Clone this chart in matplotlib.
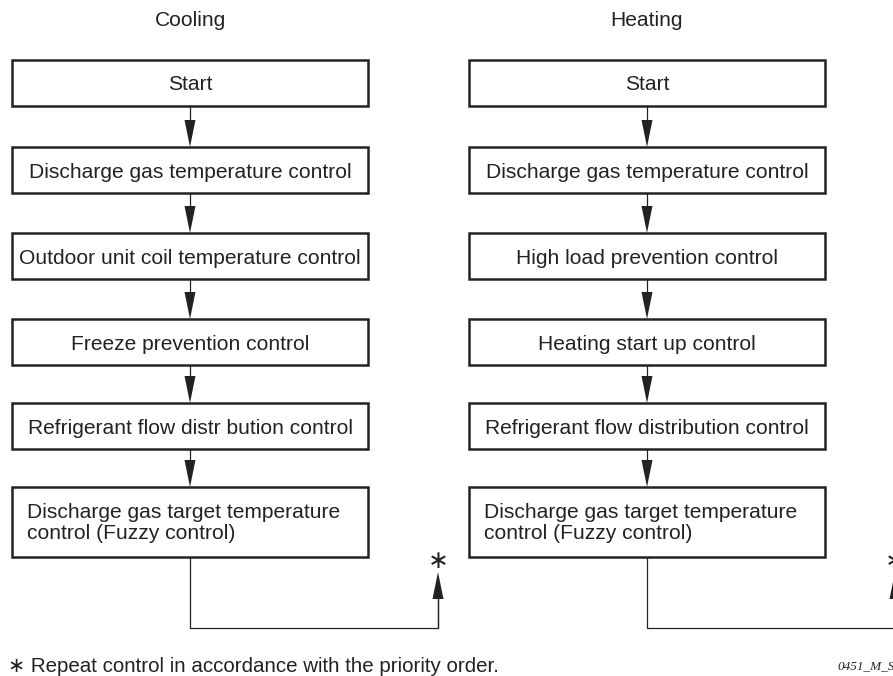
import matplotlib.pyplot as plt
from matplotlib.patches import Rectangle, Polygon

# flowchart content
titles = ["Cooling", "Heating"]
cooling_steps = [
    "Start",
    "Discharge gas temperature control",
    "Outdoor unit coil temperature control",
    "Freeze prevention control",
    "Refrigerant flow distr bution control",
    "Discharge gas target temperature\ncontrol (Fuzzy control)",
]
heating_steps = [
    "Start",
    "Discharge gas temperature control",
    "High load prevention control",
    "Heating start up control",
    "Refrigerant flow distribution control",
    "Discharge gas target temperature\ncontrol (Fuzzy control)",
]
footnote = "\u2217 Repeat control in accordance with the priority order."
code_label = "0451_M_S"

# layout (pixel coordinates)
W, H = 893, 676
box_tops = [60, 147, 233, 319, 403, 487]
box_heights = [46, 46, 46, 46, 46, 70]
col_left = [12, 469]
box_w = 356
loop_y = 628
loop_end_x = [438, 895]
fs = 15.1
dark = "#222222"

fig = plt.figure(figsize=(W / 100, H / 100), dpi=100)
ax = fig.add_axes([0, 0, 1, 1])
ax.set_xlim(0, W)
ax.set_ylim(H, 0)
ax.axis('off')

plt.rcParams['font.family'] = ['Liberation Sans', 'DejaVu Sans']


def arrow_up_down(x, y_from, y_to):
    # line with filled triangular head, tip at y_to
    hl, hw = 27, 5.5
    d = 1 if y_to > y_from else -1
    ax.plot([x, x], [y_from, y_to - d * hl], color=dark, lw=0.9)
    ax.add_patch(Polygon([[x - hw, y_to - d * hl], [x + hw, y_to - d * hl], [x, y_to]],
                         closed=True, color=dark, lw=0))


for c, steps in enumerate([cooling_steps, heating_steps]):
    left = col_left[c]
    cx = left + box_w / 2
    ax.text(cx, 21, titles[c], ha='center', va='center', fontsize=fs, color=dark)
    for i, label in enumerate(steps):
        top = box_tops[i]
        h = box_heights[i]
        ax.add_patch(Rectangle((left, top), box_w, h, fill=False, ec=dark, lw=1.8))
        if "\n" in label:
            ax.text(left + 15, top + 36, label, ha='left', va='center', fontsize=fs,
                    color=dark, linespacing=1.18)
        else:
            ax.text(cx, top + h / 2 + 2, label, ha='center', va='center', fontsize=fs,
                    color=dark)
        if i > 0:
            arrow_up_down(cx, box_tops[i - 1] + box_heights[i - 1], top)
    # return loop
    bottom = box_tops[-1] + box_heights[-1]
    ex = loop_end_x[c]
    ax.plot([cx, cx, ex, ex], [bottom, loop_y, loop_y, 572 + 27], color=dark, lw=0.9)
    arrow_up_down(ex, loop_y, 572)
    ax.text(ex, 561, "\u2217", ha='center', va='center', fontsize=18, color=dark,
            family=['DejaVu Sans'])

ax.text(8, 666, footnote, ha='left', va='center', fontsize=14.8, color=dark,
        family=['Liberation Sans', 'DejaVu Sans'])
ax.text(837, 666, code_label, ha='left', va='center', fontsize=9.5, color=dark,
        family='Liberation Serif', style='italic')

fig.savefig("out.png", dpi=100)
